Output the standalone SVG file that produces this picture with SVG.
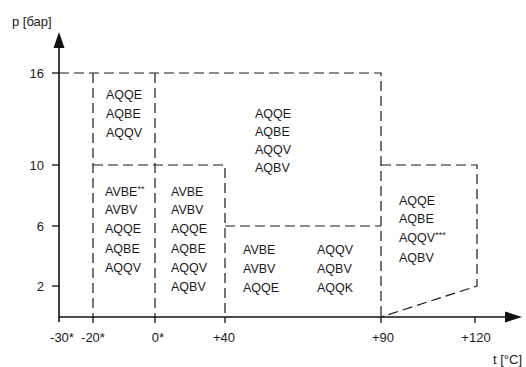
<svg xmlns="http://www.w3.org/2000/svg" width="526" height="367" viewBox="0 0 526 367">
<style>
.ax{stroke:#111;stroke-width:1.6;fill:none}
.tk{stroke:#111;stroke-width:1.3;fill:none}
.ds{stroke:#1a1a1a;stroke-width:1.2;fill:none;stroke-dasharray:10,5}
text{font-family:"Liberation Sans",Arial,sans-serif;fill:#1a1a1a}
.lb{font-size:12.5px}
.al{font-size:13px}
.sup{font-size:9px}
</style>
<rect width="526" height="367" fill="#fff"/>
<g id="axes">
<line class="ax" x1="59" y1="322" x2="59" y2="46"/>
<polygon points="59,32 53.5,48 64.5,48" fill="#111"/>
<line class="ax" x1="59" y1="317" x2="507" y2="317"/>
<polygon points="522,317 505,311.5 505,322.5" fill="#111"/>
<g class="tk">
<line x1="52" y1="73" x2="59" y2="73"/>
<line x1="52" y1="165" x2="59" y2="165"/>
<line x1="52" y1="226" x2="59" y2="226"/>
<line x1="52" y1="286" x2="59" y2="286"/>
<line x1="93" y1="317" x2="93" y2="323"/>
<line x1="155" y1="317" x2="155" y2="323"/>
<line x1="225" y1="317" x2="225" y2="323"/>
<line x1="381" y1="317" x2="381" y2="323"/>
<line x1="475" y1="317" x2="475" y2="323"/>
</g>
<text class="al" x="12" y="26">p [бар]</text>
<text class="al" x="493" y="364">t [°C]</text>
<g text-anchor="end">
<text class="al" x="44" y="78">16</text>
<text class="al" x="44" y="170">10</text>
<text class="al" x="44" y="231">6</text>
<text class="al" x="44" y="291">2</text>
</g>
<g text-anchor="middle">
<text class="al" x="62" y="342">-30*</text>
<text class="al" x="93" y="342">-20*</text>
<text class="al" x="158" y="342">0*</text>
<text class="al" x="224" y="342">+40</text>
<text class="al" x="383" y="342">+90</text>
<text class="al" x="476" y="342">+120</text>
</g>
</g>
<g id="connectors">
<path class="ds" d="M59,73 H381 V317"/>
<path class="ds" d="M93,73 V317"/>
<path class="ds" d="M155,73 V317"/>
<path class="ds" d="M93,165 H225 V317"/>
<path class="ds" d="M225,226 H381"/>
<path class="ds" d="M381,165 H477 V286 L381,317"/>
</g>
<g id="zone1" class="lb">
<text x="106" y="99">AQQE</text>
<text x="106" y="118">AQBE</text>
<text x="106" y="137">AQQV</text>
</g>
<g id="zone2" class="lb">
<text x="255" y="118">AQQE</text>
<text x="255" y="136">AQBE</text>
<text x="255" y="154">AQQV</text>
<text x="255" y="172">AQBV</text>
</g>
<g id="zone3" class="lb">
<text x="105" y="196">AVBE<tspan class="sup" dy="-4">**</tspan></text>
<text x="105" y="214">AVBV</text>
<text x="105" y="233">AQQE</text>
<text x="105" y="253">AQBE</text>
<text x="105" y="272">AQQV</text>
</g>
<g id="zone4" class="lb">
<text x="171" y="196">AVBE</text>
<text x="171" y="214">AVBV</text>
<text x="171" y="233">AQQE</text>
<text x="171" y="253">AQBE</text>
<text x="171" y="272">AQQV</text>
<text x="171" y="291">AQBV</text>
</g>
<g id="zone5" class="lb">
<text x="243" y="254">AVBE</text>
<text x="243" y="273">AVBV</text>
<text x="243" y="292">AQQE</text>
<text x="317" y="254">AQQV</text>
<text x="317" y="273">AQBV</text>
<text x="317" y="292">AQQK</text>
</g>
<g id="zone6" class="lb">
<text x="399" y="205">AQQE</text>
<text x="399" y="223">AQBE</text>
<text x="399" y="242">AQQV<tspan class="sup" dy="-4">***</tspan></text>
<text x="399" y="262">AQBV</text>
</g>
</svg>
